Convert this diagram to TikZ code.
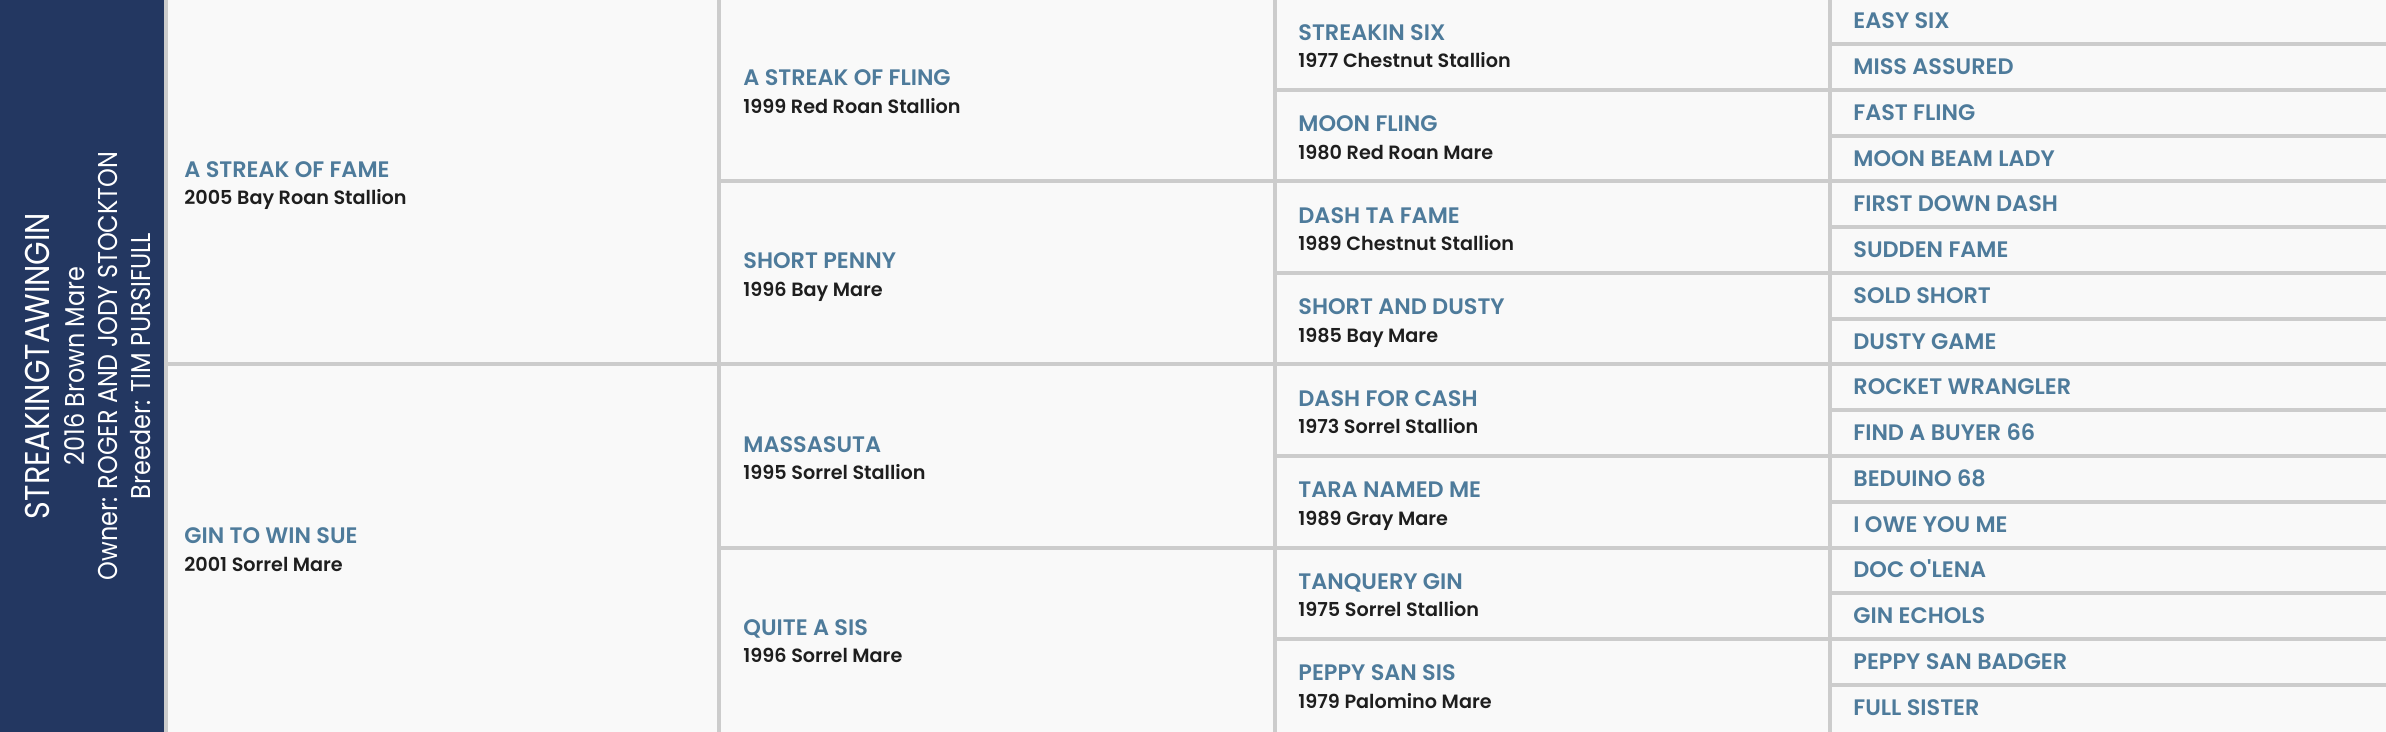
\documentclass[tikz,border=0pt]{standalone}
\usepackage{fontspec}
\setmainfont{Poppins}
\newfontfamily\namefont{Poppins SemiBold}
\newfontfamily\panelfont{Poppins}[FakeStretch=0.88]
\definecolor{navy}{HTML}{233761}
\definecolor{namecol}{HTML}{4E7B9B}
\definecolor{detcol}{HTML}{1E1E1E}
\definecolor{gridcol}{HTML}{CCCCCC}
\definecolor{cellbg}{HTML}{F9F9F9}
\tikzset{
  gridline/.style={draw=gridcol, line width=2pt},
  nametext/.style={anchor=base west, inner sep=0pt, text=namecol, font=\namefont\fontsize{11.2}{13}\selectfont},
  dettext/.style={anchor=base west, inner sep=0pt, text=detcol, font=\namefont\fontsize{9.6}{11}\selectfont},
  paneltitle/.style={anchor=base, inner sep=0pt, rotate=90, text=white, font=\panelfont\fontsize{17.2}{20}\selectfont},
  panelline/.style={anchor=base, inner sep=0pt, rotate=90, text=white, font=\panelfont\fontsize{13.6}{16}\selectfont},
}
\begin{document}
\begin{tikzpicture}[x=0.5pt, y=-0.5pt]
\useasboundingbox (0,0) rectangle (2386,732);
% backgrounds
\fill[cellbg] (164,0) rectangle (2386,732);
\fill[navy] (0,0) rectangle (164,732);
% grid
\draw[gridline] (166,0) -- (166,732);
\draw[gridline] (719,0) -- (719,732);
\draw[gridline] (1275,0) -- (1275,732);
\draw[gridline] (1830,0) -- (1830,732);
\draw[gridline] (168,364.5) -- (2386,364.5);
\foreach \j in {1,3} \draw[gridline] (721,{\j*183-1.5}) -- (2386,{\j*183-1.5});
\foreach \j in {1,3,5,7} \draw[gridline] (1277,{\j*91.5-1.5}) -- (2386,{\j*91.5-1.5});
\foreach \j in {1,3,...,15} \draw[gridline] (1832,{\j*45.75-1.5}) -- (2386,{\j*45.75-1.5});
% left panel
\node[paneltitle] (title) at (49,366) {STREAKINGTAWINGIN};
\node[panelline] (born) at (84,366) {2016 Brown Mare};
\node[panelline] (owner) at (117,366) {Owner: ROGER AND JODY STOCKTON};
\node[panelline] (breeder) at (150,366) {Breeder: TIM PURSIFULL};
% column 1
\foreach \n/\d [count=\i from 0] in {A STREAK OF FAME/2005 Bay Roan Stallion, GIN TO WIN SUE/2001 Sorrel Mare}{
  \node[nametext] (ga\i) at (184,{(\i+0.5)*366-5.5}) {\n};
  \node[dettext] (gad\i) at (184,{(\i+0.5)*366+22}) {\d};
}
% column 2
\foreach \n/\d [count=\i from 0] in {A STREAK OF FLING/1999 Red Roan Stallion, SHORT PENNY/1996 Bay Mare, MASSASUTA/1995 Sorrel Stallion, QUITE A SIS/1996 Sorrel Mare}{
  \node[nametext] (gb\i) at (743,{(\i+0.5)*183-5.5}) {\n};
  \node[dettext] (gbd\i) at (743,{(\i+0.5)*183+22}) {\d};
}
% column 3
\foreach \n/\d [count=\i from 0] in {STREAKIN SIX/1977 Chestnut Stallion, MOON FLING/1980 Red Roan Mare, DASH TA FAME/1989 Chestnut Stallion, SHORT AND DUSTY/1985 Bay Mare, DASH FOR CASH/1973 Sorrel Stallion, TARA NAMED ME/1989 Gray Mare, TANQUERY GIN/1975 Sorrel Stallion, PEPPY SAN SIS/1979 Palomino Mare}{
  \node[nametext] (gc\i) at (1298,{(\i+0.5)*91.5-5.5}) {\n};
  \node[dettext] (gcd\i) at (1298,{(\i+0.5)*91.5+22}) {\d};
}
% column 4
\foreach \n [count=\i from 0] in {EASY SIX, MISS ASSURED, FAST FLING, MOON BEAM LADY, FIRST DOWN DASH, SUDDEN FAME, SOLD SHORT, DUSTY GAME, ROCKET WRANGLER, FIND A BUYER 66, BEDUINO 68, I OWE YOU ME, DOC O\symbol{39}LENA, GIN ECHOLS, PEPPY SAN BADGER, FULL SISTER}{
  \node[nametext] (gd\i) at (1853,{(\i+0.5)*45.75+6}) {\n};
}
\end{tikzpicture}
\end{document}
